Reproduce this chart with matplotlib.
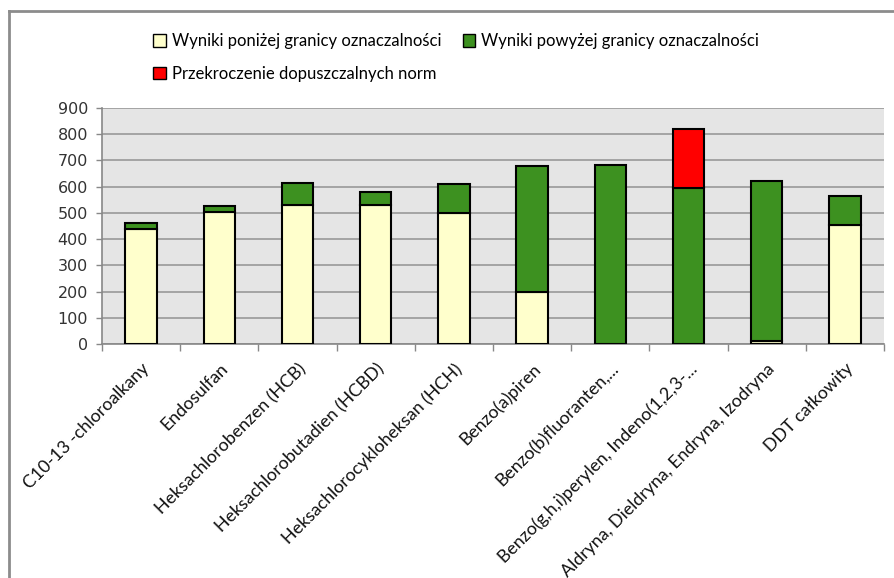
import matplotlib
matplotlib.use("Agg")
import matplotlib.pyplot as plt
from matplotlib.lines import Line2D
from matplotlib.patches import Patch
import numpy as np

categories = [
    "C10-13 -chloroalkany",
    "Endosulfan",
    "Heksachlorobenzen (HCB)",
    "Heksachlorobutadien (HCBD)",
    "Heksachlorocykloheksan (HCH)",
    "Benzo(a)piren",
    "Benzo(b)fluoranten,...",
    "Benzo(g,h,i)perylen, Indeno(1,2,3-...",
    "Aldryna, Dieldryna, Endryna, Izodryna",
    "DDT całkowity",
]
below_loq = [440, 505, 530, 530, 500, 197, 0, 0, 12, 455]
above_loq = [22, 22, 84, 50, 110, 483, 683, 596, 608, 109]
exceeded = [0, 0, 0, 0, 0, 0, 0, 224, 0, 0]
series_names = [
    "Wyniki poniżej granicy oznaczalności",
    "Wyniki powyżej granicy oznaczalności",
    "Przekroczenie dopuszczalnych norm",
]
yticks = [0, 100, 200, 300, 400, 500, 600, 700, 800, 900]

c_yellow = "#FFFFCC"
c_green = "#3D9120"
c_red = "#FF0000"
label_font = ["Lato", "DejaVu Sans"]

W, H = 895, 578
fig = plt.figure(figsize=(W / 100, H / 100), dpi=100)
ax = fig.add_axes([102 / W, (H - 344) / H, 782 / W, 236 / H])
ax.set_facecolor("#E5E5E5")

x = np.arange(len(categories))
bw = 0.4
kw = dict(width=bw, edgecolor="black", linewidth=1.5, zorder=3)
b = np.array(below_loq)
a = np.array(above_loq)
e = np.array(exceeded)
ax.bar(x, b, color=c_yellow, **kw)
ax.bar(x, a, bottom=b, color=c_green, **kw)
ex_idx = e > 0
ax.bar(x[ex_idx], e[ex_idx], bottom=(b + a)[ex_idx], color=c_red, **kw)

ax.set_xlim(-0.5, len(categories) - 0.5)
ax.set_ylim(0, 900)
ax.set_yticks(yticks)
ax.set_yticklabels([str(v) for v in yticks], fontsize=11.5, color="#333333", family="DejaVu Sans")
ax.yaxis.grid(True, color="#999999", linewidth=1.2, zorder=0)
ax.set_axisbelow(True)

ax.set_xticks(x)
ax.set_xticklabels(categories, rotation=45, ha="right", va="top",
                   rotation_mode="anchor", fontsize=12.8, family=label_font, color="#111111")
ax.set_xticks(np.arange(-0.5, len(categories)), minor=True)
ax.tick_params(axis="x", which="major", length=0, pad=12)
ax.tick_params(axis="x", which="minor", length=5, color="#888888", width=1)
ax.tick_params(axis="y", length=4, color="#888888", width=1, pad=6)

for s in ["top", "right"]:
    ax.spines[s].set_visible(False)
for s in ["left", "bottom"]:
    ax.spines[s].set_color("#888888")
    ax.spines[s].set_linewidth(1.2)

handles = [
    Patch(facecolor=c_yellow, edgecolor="black", linewidth=1, label=series_names[0]),
    Patch(facecolor=c_red, edgecolor="black", linewidth=1, label=series_names[2]),
    Patch(facecolor=c_green, edgecolor="black", linewidth=1, label=series_names[1]),
]
fig.legend(handles=handles, ncol=2, loc="upper left",
           bbox_to_anchor=(145 / W, 1 - 25 / H), frameon=False,
           prop={"family": label_font, "size": 12},
           handlelength=0.75, handleheight=0.75, handletextpad=0.35,
           columnspacing=1.3, labelspacing=1.0, borderpad=0)

fig.add_artist(Line2D([9 / W, 1], [1 - 11 / H, 1 - 11 / H], color="#8C8C8C", linewidth=2, transform=fig.transFigure))
fig.add_artist(Line2D([9 / W, 9 / W], [0, 1 - 11 / H], color="#8C8C8C", linewidth=2, transform=fig.transFigure))

fig.savefig("out.png", dpi=100)
